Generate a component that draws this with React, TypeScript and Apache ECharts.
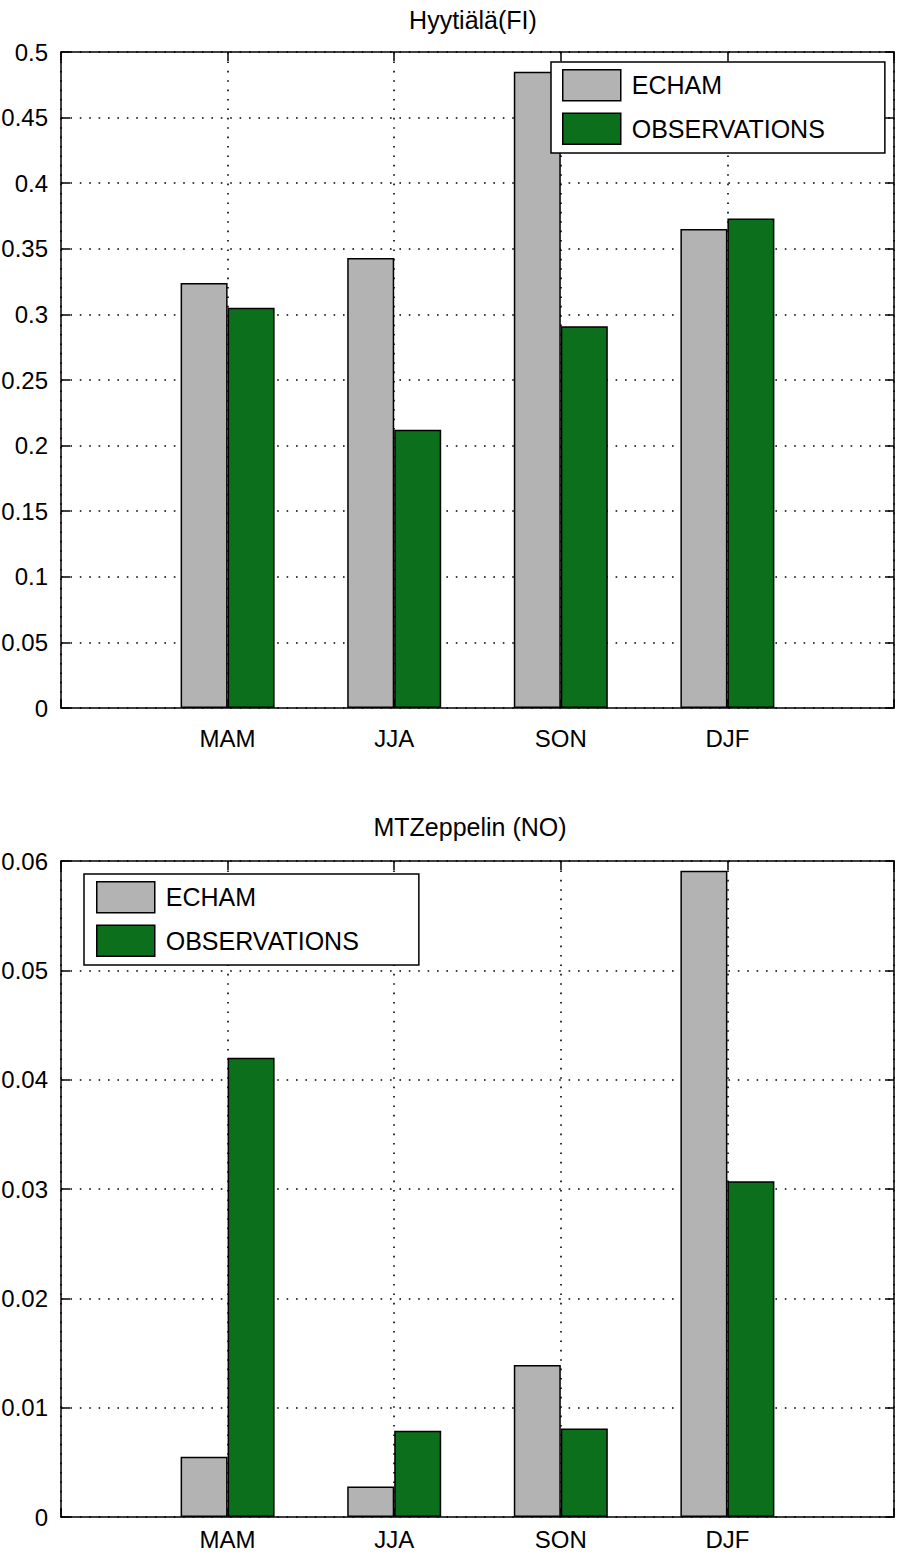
import React, { useEffect, useRef } from "react";
import * as echarts from "echarts";

const categories = ["MAM", "JJA", "SON", "DJF"];
const seriesNames = ["ECHAM", "OBSERVATIONS"];
const hyyTitle = "Hyytiälä(FI)";
const zepTitle = "MTZeppelin (NO)";
const hyyEcham = [0.324, 0.343, 0.485, 0.365];
const hyyObs = [0.305, 0.212, 0.291, 0.373];
const zepEcham = [0.0055, 0.0028, 0.0139, 0.0591];
const zepObs = [0.042, 0.0079, 0.0081, 0.0307];
const hyyTicks = { min: 0, max: 0.5, interval: 0.05 };
const zepTicks = { min: 0, max: 0.06, interval: 0.01 };

const FONT = "Liberation Sans";
const FS = 24;
const FS_BIG = 25;
const GRAY = "#b3b3b3";
const GREEN = "#0c6f1c";

export default function App() {
  const ref = useRef<HTMLDivElement>(null);
  useEffect(() => {
    document.body.style.margin = "0";
    if (!ref.current) return;
    const chart = echarts.init(ref.current, undefined, { renderer: "svg" });
    const axisCats = ["", ...categories, ""];
    const pad = (arr: number[]) => ["-", ...arr, "-"];
    const dotted = { color: "#000", width: 1.6, type: [1.6, 7.8] as any };
    const axisLine = { show: true, onZero: false, lineStyle: { color: "#000", width: 1.5 } };
    const tick = { show: true, inside: true, length: 9, lineStyle: { color: "#000", width: 1.5 } };
    const fmt = (v: number) => String(parseFloat(v.toFixed(4)));
    const grids = [
      { left: 61, top: 52, width: 833, height: 656, outerBoundsMode: "none", containLabel: false },
      { left: 61, top: 861, width: 833, height: 656, outerBoundsMode: "none", containLabel: false },
    ];
    const labelMargins = [18, 10];
    const xAxes: any[] = [];
    const yAxes: any[] = [];
    [0, 1].forEach((g) => {
      xAxes.push({
        type: "category",
        gridIndex: g,
        position: "bottom",
        data: axisCats,
        boundaryGap: false,
        axisLine,
        axisTick: { ...tick, interval: 0 },
        axisLabel: { interval: 0, fontSize: FS, color: "#000", fontFamily: FONT, margin: labelMargins[g] },
        splitLine: { show: true, interval: 0, lineStyle: dotted },
      });
      xAxes.push({
        type: "category",
        gridIndex: g,
        position: "top",
        data: axisCats,
        boundaryGap: false,
        axisLine,
        axisTick: { ...tick, interval: 0 },
        axisLabel: { show: false },
        splitLine: { show: false },
      });
      const t = g === 0 ? hyyTicks : zepTicks;
      yAxes.push({
        type: "value",
        gridIndex: g,
        position: "left",
        ...t,
        axisLine,
        axisTick: tick,
        axisLabel: { fontSize: FS, color: "#000", fontFamily: FONT, margin: 13, formatter: fmt },
        splitLine: { show: true, lineStyle: dotted },
      });
      yAxes.push({
        type: "value",
        gridIndex: g,
        position: "right",
        ...t,
        axisLine,
        axisTick: tick,
        axisLabel: { show: false },
        splitLine: { show: false },
      });
    });
    const bar = (name: string, data: number[], color: string, g: number) => ({
      type: "bar",
      name,
      xAxisIndex: g * 2,
      yAxisIndex: g * 2,
      data: pad(data),
      barWidth: 47,
      barGap: "0%",
      itemStyle: { color, borderColor: "#000", borderWidth: 1.5 },
    });
    const legendCommon = {
      orient: "vertical",
      data: seriesNames,
      icon: "rect",
      itemWidth: 58,
      itemHeight: 31,
      itemGap: 11,
      backgroundColor: "#fff",
      borderColor: "#000",
      borderWidth: 1.5,
      borderRadius: 0,
      selectedMode: false,
      itemStyle: { borderColor: "#000", borderWidth: 1.5 },
      textStyle: { fontSize: FS_BIG, color: "#000", fontFamily: FONT, padding: [0, 0, 0, 6] },
    };
    const titleStyle = { fontSize: FS_BIG, fontWeight: "normal", color: "#000", fontFamily: FONT };
    chart.setOption({
      animation: false,
      backgroundColor: "#fff",
      textStyle: { fontFamily: FONT },
      title: [
        { text: hyyTitle, left: 468, top: 2, textAlign: "center", textStyle: titleStyle },
        { text: zepTitle, left: 465, top: 809, textAlign: "center", textStyle: titleStyle },
      ],
      legend: [
        { ...legendCommon, left: 551, top: 62, padding: [7, 60, 8, 11] },
        { ...legendCommon, left: 84, top: 874, padding: [7, 60, 8, 12] },
      ],
      grid: grids,
      xAxis: xAxes,
      yAxis: yAxes,
      series: [
        bar(seriesNames[0], hyyEcham, GRAY, 0),
        bar(seriesNames[1], hyyObs, GREEN, 0),
        bar(seriesNames[0], zepEcham, GRAY, 1),
        bar(seriesNames[1], zepObs, GREEN, 1),
      ],
    });
    return () => chart.dispose();
  }, []);
  return <div ref={ref} style={{ width: 904, height: 1554 }} />;
}
